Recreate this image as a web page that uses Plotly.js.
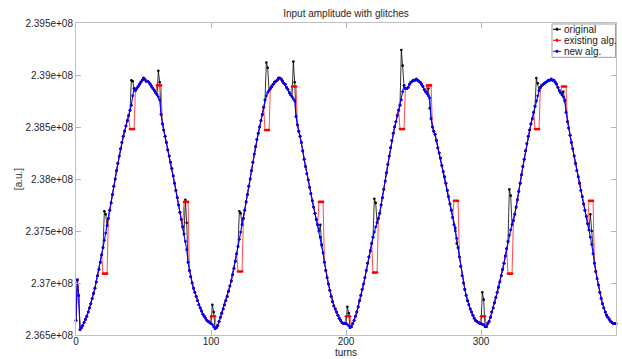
<!DOCTYPE html>
<html>
<head>
<meta charset="utf-8">
<script src="https://cdn.plot.ly/plotly-3.0.1.min.js"></script>
<style>html,body{margin:0;padding:0;background:#fff;}#chart{width:622px;height:359px;}</style>
</head>
<body>
<div id="chart"></div>
<script>
// ---- data (amplitude in units of 1e6 a.u.), one sample per turn starting at turn 0 ----
const firstTurn = 0;
const turnStep = 1;

const newAlgTurns000to099 = [
236.64,237.03,236.88,236.55,236.57,236.59,236.62,236.65,236.68,236.72,
236.76,236.80,236.85,236.90,236.95,237.01,237.07,237.13,237.20,237.27,
237.34,237.41,237.48,237.55,237.62,237.70,237.77,237.85,237.93,238.00,
238.08,238.15,238.22,238.29,238.35,238.41,238.46,238.51,238.56,238.61,
238.66,238.71,238.80,238.87,238.85,238.87,238.89,238.91,238.93,238.95,
238.97,238.96,238.94,238.94,238.93,238.91,238.89,238.87,238.85,238.83,
238.81,238.79,238.76,238.62,238.53,238.47,238.41,238.35,238.28,238.22,
238.16,238.10,238.03,237.96,237.89,237.82,237.75,237.68,237.61,237.54,
237.47,237.40,237.32,237.20,237.12,237.06,237.00,236.95,236.91,236.87,
236.83,236.79,236.76,236.73,236.70,236.68,236.66,236.64,236.63,236.62
];
const newAlgTurns100to199 = [
236.61,236.60,236.58,236.56,236.57,236.59,236.63,236.67,236.71,236.75,
236.79,236.83,236.87,236.92,236.97,237.02,237.08,237.14,237.21,237.28,
237.35,237.42,237.49,237.56,237.62,237.70,237.78,237.85,237.93,238.00,
238.08,238.16,238.24,238.31,238.38,238.44,238.50,238.56,238.62,238.69,
238.76,238.80,238.83,238.85,238.87,238.89,238.91,238.93,238.94,238.95,
238.97,238.97,238.96,238.94,238.92,238.91,238.88,238.86,238.83,238.81,
238.79,238.77,238.75,238.60,238.52,238.46,238.41,238.35,238.27,238.19,
238.12,238.05,237.99,237.92,237.86,237.79,237.73,237.67,237.61,237.56,
237.50,237.44,237.37,237.29,237.20,237.12,237.05,236.99,236.93,236.87,
236.82,236.78,236.75,236.72,236.69,236.66,236.64,236.62,236.61,236.61
];
const newAlgTurns200to299 = [
236.61,236.60,236.59,236.57,236.58,236.61,236.64,236.68,236.72,236.77,
236.83,236.88,236.94,236.99,237.05,237.12,237.19,237.25,237.31,237.38,
237.44,237.49,237.54,237.58,237.62,237.67,237.75,237.82,237.90,237.98,
238.06,238.14,238.22,238.30,238.37,238.44,238.50,238.55,238.61,238.66,
238.71,238.76,238.84,238.90,238.87,238.87,238.88,238.91,238.93,238.94,
238.95,238.95,238.96,238.95,238.94,238.93,238.91,238.89,238.86,238.84,
238.82,238.80,238.78,238.58,238.50,238.46,238.43,238.37,238.30,238.25,
238.20,238.13,238.07,238.02,237.96,237.89,237.83,237.76,237.70,237.63,
237.56,237.50,237.43,237.34,237.25,237.16,237.07,237.00,236.94,236.88,
236.83,236.79,236.75,236.72,236.69,236.66,236.64,236.63,236.62,236.61
];
const newAlgTurns300to400 = [
236.61,236.60,236.60,236.58,236.58,236.61,236.63,236.67,236.72,236.76,
236.81,236.86,236.91,236.96,237.01,237.07,237.13,237.19,237.26,237.33,
237.40,237.46,237.51,237.56,237.60,237.66,237.73,237.80,237.88,237.96,
238.04,238.12,238.19,238.27,238.34,238.41,238.47,238.53,238.58,238.64,
238.70,238.75,238.80,238.85,238.88,238.90,238.91,238.92,238.93,238.94,
238.95,238.95,238.96,238.95,238.95,238.93,238.91,238.88,238.85,238.83,
238.81,238.79,238.76,238.64,238.55,238.49,238.42,238.35,238.29,238.22,
238.15,238.08,238.02,237.96,237.89,237.83,237.76,237.70,237.64,237.57,
237.51,237.44,237.37,237.28,237.19,237.11,237.04,236.98,236.91,236.85,
236.80,236.76,236.72,236.69,236.67,236.65,236.63,236.62,236.61,236.61,
236.61
];

// glitches: the original signal jumps at turns g and g+1,
// the existing algorithm holds a stale value from g-1 to g+2
const glitchTurns = [21,41,61,81,101,121,141,161,181,201,221,241,261,281,301,321,341,361,381];
const originalGlitchFirst  = [237.69,238.95,239.04,237.80,236.79,237.69,239.12,239.13,237.56,236.77,237.81,239.24,238.87,237.53,236.91,237.90,238.97,238.84,237.66];
const originalGlitchSecond = [237.66,238.94,238.93,237.58,236.72,237.67,239.07,238.93,237.36,236.71,237.77,239.09,238.68,237.38,236.84,237.84,238.92,238.75,237.50];
const existingHeldValue    = [237.09,238.48,238.90,237.78,236.68,237.11,238.47,238.89,237.78,236.68,237.10,238.48,238.90,237.79,236.68,237.09,238.48,238.89,237.79];

const yTickValues = [236.5,237.0,237.5,238.0,238.5,239.0,239.5];
const yTickLabels = ['2.365e+08','2.37e+08','2.375e+08','2.38e+08','2.385e+08','2.39e+08','2.395e+08'];
const xTickValues = [0,100,200,300,400];
const xTickLabels = ['0','100','200','300','400'];
const seriesNames = ['original','existing alg.','new alg.'];

// ---- build series ----
const unit = 1e6;
const newAlg = [].concat(newAlgTurns000to099,newAlgTurns100to199,newAlgTurns200to299,newAlgTurns300to400).map(v=>v*unit);
const original = newAlg.slice();
const existing = newAlg.slice();
glitchTurns.forEach((g,i)=>{
  const idx = (g-firstTurn)/turnStep;
  original[idx] = originalGlitchFirst[i]*unit;
  original[idx+1] = originalGlitchSecond[i]*unit;
  for (let k=idx-1;k<=idx+2;k++) existing[k] = existingHeldValue[i]*unit;
});

const colors = ['#000000','#ff0000','#0000ff'];
const traces = [
  {y:original, x0:firstTurn, dx:turnStep, type:'scatter', mode:'lines+markers', name:seriesNames[0],
   line:{color:colors[0],width:0.8}, marker:{color:colors[0],size:2.6}, cliponaxis:false, showlegend:false},
  {y:existing, x0:firstTurn, dx:turnStep, type:'scatter', mode:'lines+markers', name:seriesNames[1],
   line:{color:'#ff2020',width:0.8}, marker:{color:colors[1],size:2.6}, cliponaxis:false, showlegend:false},
  {y:newAlg, x0:firstTurn, dx:turnStep, type:'scatter', mode:'lines+markers', name:seriesNames[2],
   line:{color:colors[2],width:1.1}, marker:{color:colors[2],size:2.8}, cliponaxis:false, showlegend:false}
];

// custom compact legend (paper coordinates)
const legX0 = 0.8815, legX1 = 0.9991, legY0 = 0.890, legY1 = 0.9968;
const legRows = [0.9798, 0.9446, 0.9093];
const legLineX0 = 0.8833, legLineX1 = 0.8981, legTextX = 0.9006;
const shapes = [{type:'rect',xref:'paper',yref:'paper',x0:legX0,x1:legX1,y0:legY0,y1:legY1,
  line:{color:'#a0a0a0',width:1},fillcolor:'#ffffff',layer:'above'}];
const annotations = [];
seriesNames.forEach((n,i)=>{
  shapes.push({type:'line',xref:'paper',yref:'paper',x0:legLineX0,x1:legLineX1,y0:legRows[i],y1:legRows[i],
    line:{color:colors[i],width:1},layer:'above'});
  const cx=(legLineX0+legLineX1)/2, rx=1.3/540, ry=1.3/312;
  shapes.push({type:'circle',xref:'paper',yref:'paper',x0:cx-rx,x1:cx+rx,y0:legRows[i]-ry,y1:legRows[i]+ry,
    line:{color:colors[i],width:0.5},fillcolor:colors[i],layer:'above'});
  annotations.push({xref:'paper',yref:'paper',x:legTextX,y:legRows[i],xanchor:'left',yanchor:'middle',
    text:n,showarrow:false,font:{size:10,color:'#1a1a1a'}});
});

const axisCommon = {ticks:'inside',ticklen:5,tickcolor:'#b4b4b4',tickwidth:1,showline:true,linecolor:'#c0c0c0',
  linewidth:1,mirror:'ticks',showgrid:false,zeroline:false,tickfont:{size:10,color:'#262626'}};

const layout = {
  width:622,height:359,
  margin:{l:76,r:6,t:23,b:24,pad:0},
  paper_bgcolor:'#ffffff',plot_bgcolor:'#ffffff',
  font:{family:'"Liberation Sans", Arial, sans-serif',size:10,color:'#262626'},
  title:{text:'Input amplitude with glitches',x:0.5,xref:'paper',xanchor:'center',y:1-13.5/359,yref:'container',yanchor:'middle',
    font:{size:10,color:'#262626'}},
  xaxis:Object.assign({},axisCommon,{range:[0,400],tickmode:'array',tickvals:xTickValues,ticktext:xTickLabels,
    ticklabelstandoff:-3,title:{text:'turns',standoff:0,font:{size:10}}}),
  yaxis:Object.assign({},axisCommon,{range:[236.5*unit,239.5*unit],tickmode:'array',
    tickvals:yTickValues.map(v=>v*unit),ticktext:yTickLabels,title:{text:'[a.u.]',standoff:0,font:{size:10}}}),
  shapes:shapes,annotations:annotations,showlegend:false
};

Plotly.newPlot('chart',traces,layout,{staticPlot:true,displayModeBar:false});
</script>
</body>
</html>
